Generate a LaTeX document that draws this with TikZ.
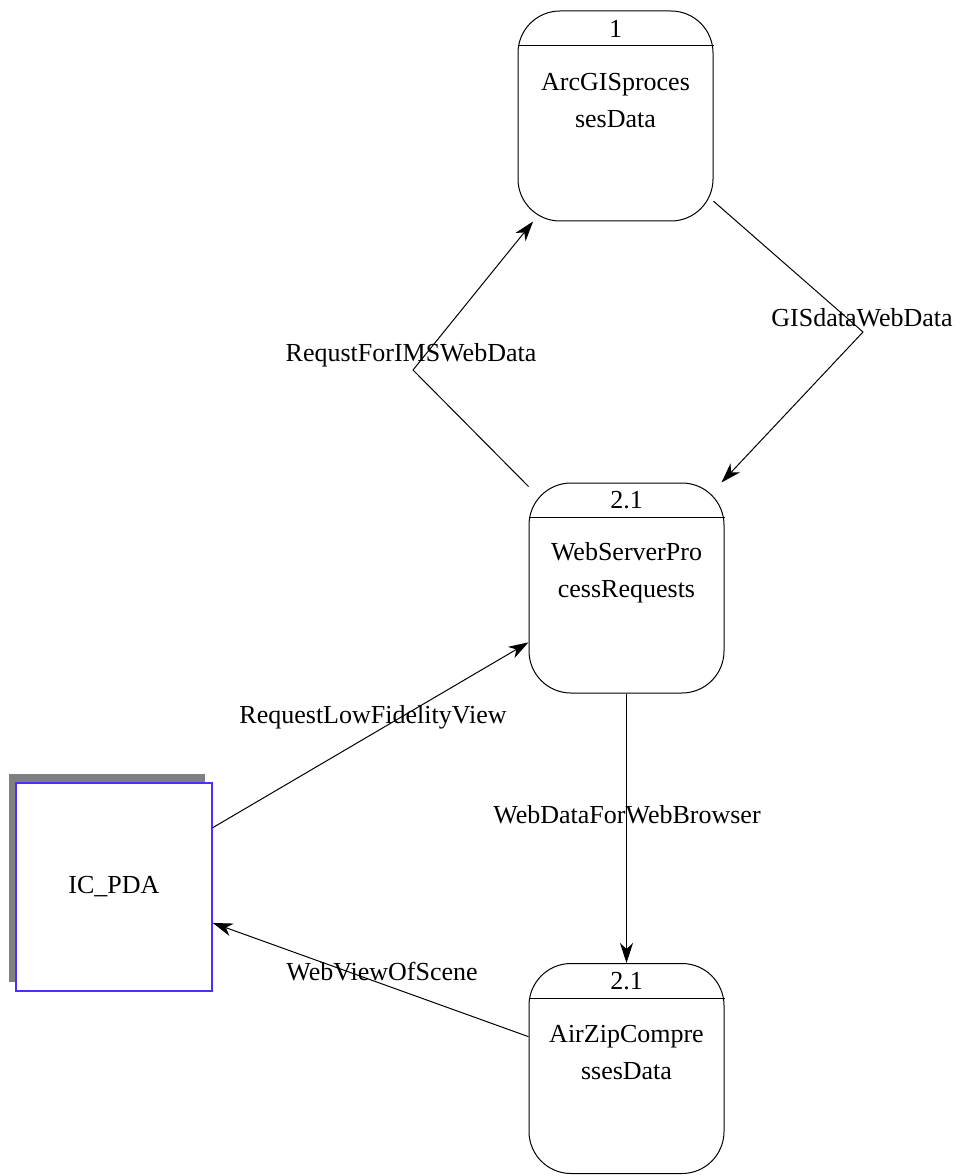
\documentclass[tikz,border=0pt]{standalone}
\usepackage{fontspec}
\setmainfont{Liberation Serif}
\usetikzlibrary{arrows.meta,shadows}
\definecolor{pdablue}{RGB}{72,48,255}
\definecolor{pdashadow}{RGB}{128,128,128}

\begin{document}
\begin{tikzpicture}[x=0.5pt,y=-0.5pt,line width=0.5pt,
    font=\fontsize{13}{18.5}\selectfont,
    procbox/.style={draw,rounded corners=21pt,minimum width=97.5pt,minimum height=105pt,inner sep=0pt},
    extbox/.style={draw=pdablue,line width=0.7pt,fill=white,minimum width=98pt,minimum height=104pt,inner sep=0pt,
        drop shadow={shadow xshift=-3.5pt,shadow yshift=4.5pt,fill=pdashadow,opacity=1}},
    proctxt/.style={align=center,inner sep=0pt},
    flow/.style={-{Stealth[length=10pt,width=6.5pt,inset=3pt]}}]
    \useasboundingbox (0,0) rectangle (959,1176);
    % processes
    \node[procbox](p1) at (615.5,116){};
    \node[procbox](p2) at (626.5,588){};
    \node[procbox](p3) at (626.5,1068.5){};
    \draw([yshift=-17.5pt]p1.north west)--([yshift=-17.5pt]p1.north east);
    \draw([yshift=-17.5pt]p2.north west)--([yshift=-17.5pt]p2.north east);
    \draw([yshift=-17.5pt]p3.north west)--([yshift=-17.5pt]p3.north east);
    \node(p1num) at ([yshift=-9pt]p1.north){1};
    \node(p2num) at ([yshift=-9pt]p2.north){2.1};
    \node(p3num) at ([yshift=-9pt]p3.north){2.1};
    \node[proctxt](p1txt) at ([yshift=-45pt]p1.north){ArcGISproces\\sesData};
    \node[proctxt](p2txt) at ([yshift=-45pt]p2.north){WebServerPro\\cessRequests};
    \node[proctxt](p3txt) at ([yshift=-45pt]p3.north){AirZipCompre\\ssesData};
    % external entity
    \node[extbox](pda) at (114,887){IC\_PDA};
    % data flows
    \coordinate(b1) at (413,370);
    \coordinate(b2) at (863,332);
    \draw[flow](p2.134)--(b1)--(p1.232);
    \draw[flow](p1.319)--(b2)--(p2.48);
    \draw[flow](pda.31)--(p2.209);
    \draw[flow](p2.south)--(p3.north);
    \draw[flow](p3.162)--(pda.340);
    \node(l1) at (411,355){RequstForIMSWebData};
    \node(l2) at (862,318){GISdataWebData};
    \node(l3) at (373,717){RequestLowFidelityView};
    \node(l4) at (627,815){WebDataForWebBrowser};
    \node(l5) at (382,972){WebViewOfScene};
\end{tikzpicture}
\end{document}
